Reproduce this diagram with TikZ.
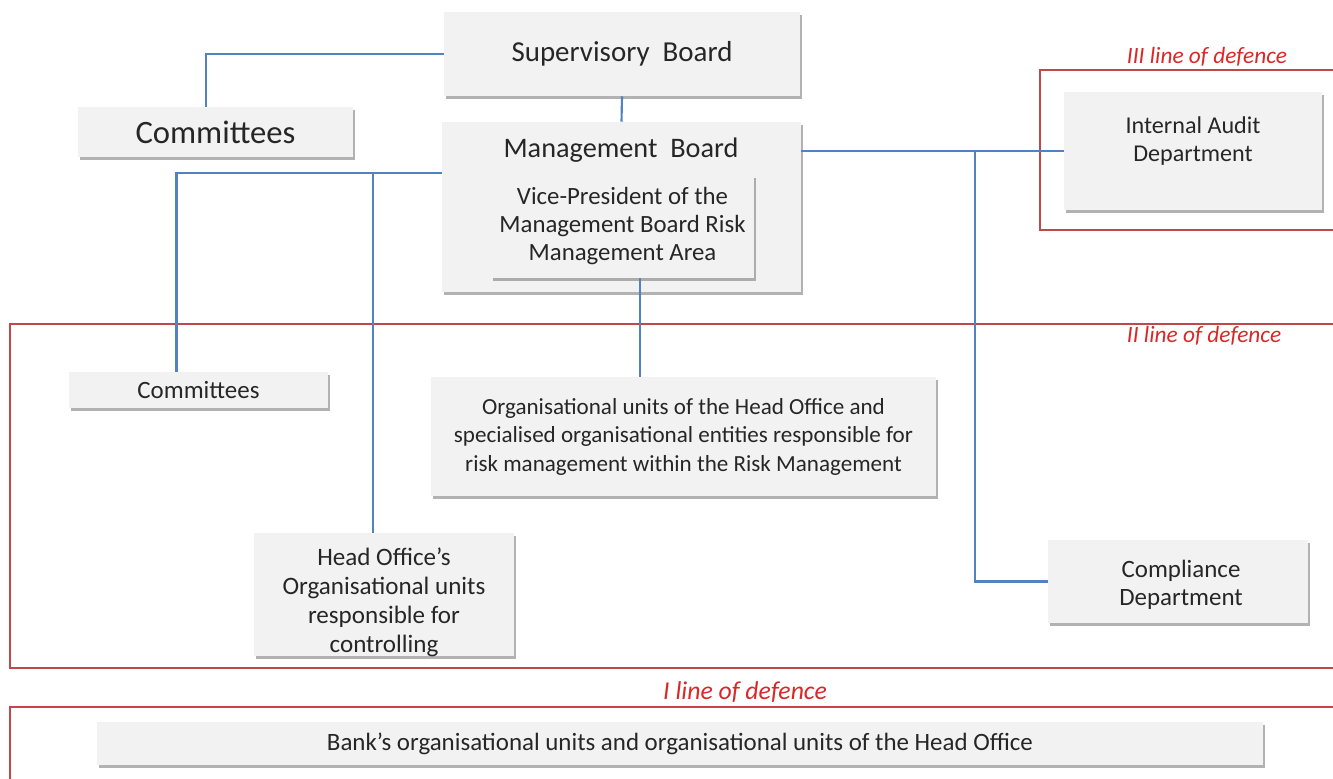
\documentclass[tikz,border=0pt]{standalone}
\usepackage{fontspec}
\setmainfont{Carlito}
\usetikzlibrary{shadows}
\definecolor{boxfill}{HTML}{F2F2F2}
\definecolor{conblue}{HTML}{5282C2}
\definecolor{framered}{HTML}{C0484D}
\definecolor{labred}{HTML}{D82828}
\tikzset{
  box/.style={fill=boxfill, draw=none, inner sep=2pt, align=center, text=black!85,
    drop shadow={shadow xshift=1.2pt, shadow yshift=-2.2pt, fill=black!55, opacity=0.55}},
  btext/.style={align=center, text=black!85, inner sep=0pt},
  conn/.style={draw=conblue, line width=1.6pt},
  frame/.style={draw=framered, line width=0.9pt},
  deflab/.style={text=labred, font=\itshape\fontsize{17.5}{20}\selectfont, inner sep=1pt},
}
\newcommand\mybox[7][]{\node[box,#1,minimum width={(#5-#3)*0.75pt},minimum height={(#6-#4)*0.75pt}] (#2) at ({(#3+#5)/2},{(#4+#6)/2}) {#7};}
\begin{document}
\begin{tikzpicture}[x=0.75pt,y=-0.75pt]
\useasboundingbox (0,0) rectangle (1333,778);
% frames
\draw[frame] (1040,70) rectangle (1345,230);
\draw[frame] (10,324) rectangle (1345,668);
\draw[frame] (10,707) rectangle (1345,800);
\node[deflab] (l3) at (1207,57) {III line of defence};
\node[deflab] (l2) at (1204,336) {II line of defence};
\node[deflab, font=\itshape\fontsize{19.3}{22}\selectfont] (l1) at (745,692) {I line of defence};
% coordinates for junctions
\coordinate (jl) at (373,0);
\coordinate (jr) at (975,0);
\coordinate (jv) at (640,0);
% boxes
\mybox[font=\fontsize{21.7}{26}\selectfont]{sb}{444}{12}{800}{96}{Supervisory\ \ Board}
\mybox[font=\fontsize{24.5}{28}\selectfont]{com1}{78}{107}{353}{157}{Committees}
\mybox{mb}{442}{122}{801}{292}{}
\node[btext, font=\fontsize{21.2}{25}\selectfont] (mbt) at (621,150) {Management\ \ Board};
\mybox[font=\fontsize{18.6}{21}\selectfont]{vp}{491}{175}{754}{278}{Vice-President of the\\Management Board Risk\\Management Area}
\mybox{ia}{1064}{92}{1322}{210}{}
\node[btext, font=\fontsize{18.1}{21}\selectfont] (iat) at (1193,141) {Internal Audit\\Department};
\mybox[font=\fontsize{18.7}{22}\selectfont]{com2}{69}{372}{328}{408}{Committees}
\mybox[font=\fontsize{17.3}{21.4}\selectfont]{org}{431}{377}{936}{496}{Organisational units of the Head Office and\\specialised organisational entities responsible for\\risk management within the Risk Management}
\mybox{ho}{254}{533}{514}{656}{}
\node[btext, font=\fontsize{18.8}{21.75}\selectfont] (hot) at (384,602) {Head Office's\\Organisational units\\responsible for\\controlling};
\mybox{cd}{1048}{540}{1308}{623}{}
\node[btext, font=\fontsize{18.7}{21.5}\selectfont] (cdt) at (1181,585) {Compliance\\Department};
\mybox[font=\fontsize{18.7}{22}\selectfont]{bank}{97}{722}{1263}{765}{Bank's organisational units and organisational units of the Head Office}
% connectors
\coordinate (mbl) at ([yshift=25.5pt]mb.west);
\draw[conn] (sb.west) -| ([xshift=-7pt]com1.north);
\draw[conn] (sb.south) -- (mb.north);
\draw[conn] (mbl) -| ([xshift=-16.5pt]com2.north);
\draw[conn] (jl |- mbl) -- (jl |- ho.north);
\draw[conn] (mb.east |- ia.west) -- (ia.west);
\draw[conn] (jr |- ia.west) |- (cd.west);
\draw[conn] (jv |- vp.south) -- (jv |- org.north);
\end{tikzpicture}
\end{document}
